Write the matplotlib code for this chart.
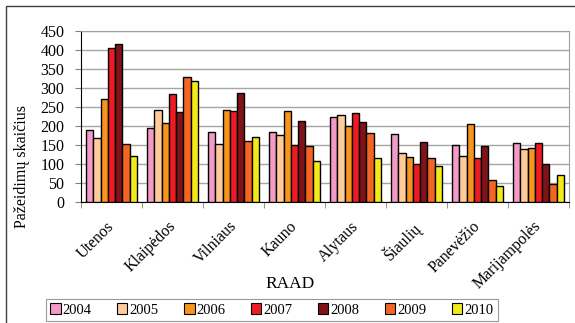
import matplotlib
matplotlib.use('Agg')
import matplotlib.pyplot as plt
import matplotlib.patches as mpatches
import matplotlib.transforms as mtransforms
import numpy as np

plt.rcParams['font.family'] = ['Liberation Serif', 'DejaVu Serif']

regions = ['Utenos', 'Klaipėdos', 'Vilniaus', 'Kauno', 'Alytaus', 'Šiaulių', 'Panevėžio', 'Marijampolės']
years = ['2004', '2005', '2006', '2007', '2008', '2009', '2010']
v2004 = [190, 196, 183, 183, 225, 179, 149, 154]
v2005 = [169, 242, 152, 177, 228, 128, 120, 139]
v2006 = [272, 209, 242, 240, 201, 118, 204, 142]
v2007 = [405, 284, 239, 151, 234, 100, 117, 154]
v2008 = [417, 238, 288, 213, 210, 157, 147, 100]
v2009 = [152, 329, 161, 148, 182, 116, 57, 48]
v2010 = [120, 318, 171, 107, 117, 95, 42, 72]
series = [v2004, v2005, v2006, v2007, v2008, v2009, v2010]
colors = ['#F49AC6', '#FFCC99', '#F7941D', '#ED1C24', '#7F1418', '#F26522', '#F2EA1A']

fig = plt.figure(figsize=(5.75, 3.23), dpi=100)
W, H = 575, 323
ax = fig.add_axes([81 / W, 1 - 202 / H, (569 - 81) / W, (202 - 31) / H])

# outer chart frame (only left and top are inside the picture)
frame = mpatches.Rectangle((6 / W, -0.1), 1.2, 1 - 6 / H + 0.1, transform=fig.transFigure,
                           fill=False, edgecolor='#404040', linewidth=1.0)
fig.patches.append(frame)

x = np.arange(len(regions))
bw = 0.12
for i, (vals, c) in enumerate(zip(series, colors)):
    ax.bar(x + (i - 3) * bw, vals, bw, color=c, edgecolor='black', linewidth=1.0,
           label=years[i], zorder=3)

ax.set_xlim(-0.5, len(regions) - 0.5)
ax.set_ylim(0, 450)
ax.set_yticks(np.arange(0, 451, 50))
ax.yaxis.grid(True, color='#A6A6A6', linewidth=1.0, zorder=0)
ax.set_xticks(x)
ax.set_xticklabels(regions, rotation=45, ha='right', rotation_mode='anchor', fontsize=11.5)
ax.set_xticks(np.arange(-0.5, len(regions), 1), minor=True)
ax.tick_params(axis='x', which='major', length=0, pad=8)
ax.tick_params(axis='x', which='minor', length=4, color='#808080')
ax.tick_params(axis='y', length=4, labelsize=11.5, color='#808080', pad=8)

# slanted labels sit a little lower than matplotlib puts them
shift = mtransforms.ScaledTranslation(-5 / 100, -5 / 100, fig.dpi_scale_trans)
for lab in ax.get_xticklabels():
    lab.set_transform(lab.get_transform() + shift)

for s in ['top', 'right']:
    ax.spines[s].set_color('#A0A0A0')
ax.spines['left'].set_color('black')
ax.spines['bottom'].set_color('black')

ax.set_ylabel('Pažeidimų skaičius', fontsize=11.5)
ax.yaxis.set_label_coords(-0.104, 0.21)
fig.text(290 / W, 1 - 284 / H, 'RAAD', ha='center', va='center', fontsize=12.5)

handles = [mpatches.Patch(facecolor=c, edgecolor='black', linewidth=0.8) for c in colors]
leg = fig.legend(handles, years, ncol=7, loc='center', bbox_to_anchor=(272 / W, 1 - 310 / H),
                 fontsize=10.5, frameon=True, fancybox=False, handlelength=0.7, handleheight=0.7,
                 handletextpad=0.15, columnspacing=1.75, borderpad=0.3)
leg.get_frame().set_edgecolor('#808080')
leg.get_frame().set_linewidth(0.8)

fig.savefig('out.png', dpi=100)
